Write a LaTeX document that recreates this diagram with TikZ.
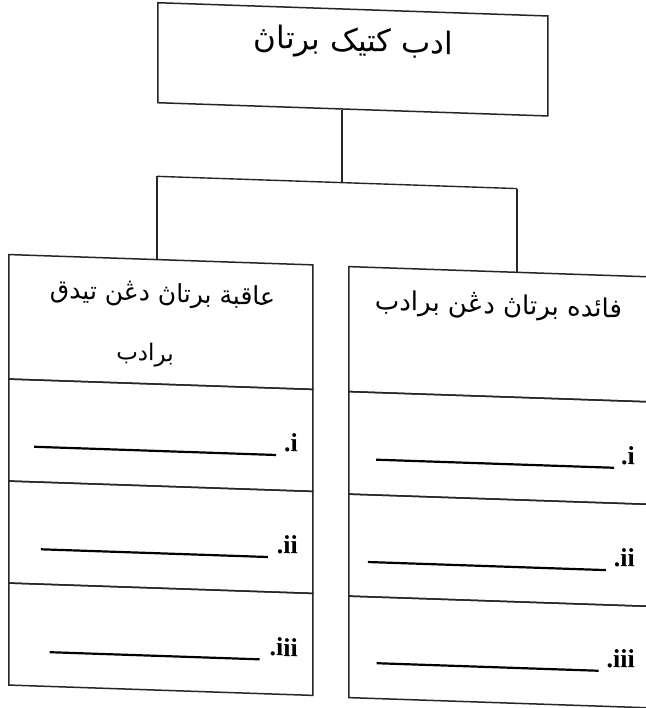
\documentclass[tikz,border=0pt]{standalone}
\usepackage{fontspec}
\setmainfont{Liberation Serif}
\newfontfamily\arabicfont[Script=Arabic]{DejaVu Sans}
\TeXXeTstate=1
\tikzset{
  cell/.style={draw=black!85, line width=1.5pt, rectangle, inner sep=0pt, anchor=north west},
  conn/.style={draw=black!85, line width=1.4pt},
  jawi/.style={font=\arabicfont\fontsize{25}{30}\selectfont, inner sep=0pt},
  blank/.style={font=\fontsize{26}{30}\selectfont\bfseries, inner sep=0pt, anchor=base east}
}
\begin{document}
\begin{tikzpicture}[x=1pt,y=-1pt]
\useasboundingbox[fill=white] (0,0) rectangle (645,708);
\begin{scope}[yslant=-0.034, transform shape]
% top box
\node[cell, minimum width=390pt, minimum height=100pt] (top) at (157,-3.4) {};
\node[jawi, font=\arabicfont\fontsize{31}{36}\selectfont] (toptext) at (353.5,31) {\beginR ادب كتيک برتاڽ\endR};
% left column
\node[cell, minimum width=304pt, minimum height=124.5pt] (lh) at (8,253.5) {};
\node[cell, minimum width=304pt, minimum height=102pt] (l1) at (8,378) {};
\node[cell, minimum width=304pt, minimum height=102pt] (l2) at (8,480) {};
\node[cell, minimum width=304pt, minimum height=102pt] (l3) at (8,582) {};
\node[jawi] (lht1) at (162.5,289.5) {\beginR عاقبة برتاڽ دڠن تيدق\endR};
\node[jawi, font=\arabicfont\fontsize{23}{28}\selectfont] (lht2) at (145,350) {\beginR برادب\endR};
\node[blank] (lb1) at (298,441.7) {\rule[-5pt]{242pt}{2.2pt}\hspace{8pt}.i};
\node[blank] (lb2) at (298,544) {\rule[-5pt]{227pt}{2.2pt}\hspace{9pt}.ii};
\node[blank] (lb3) at (298,646.6) {\rule[-5pt]{210pt}{2.2pt}\hspace{10pt}.iii};
% right column
\node[cell, minimum width=312pt, minimum height=125pt] (rh) at (348,254) {};
\node[cell, minimum width=312pt, minimum height=102.5pt] (r1) at (348,379) {};
\node[cell, minimum width=312pt, minimum height=102pt] (r2) at (348,481.5) {};
\node[cell, minimum width=312pt, minimum height=101.5pt] (r3) at (348,583.5) {};
\node[jawi, font=\arabicfont\fontsize{26}{31}\selectfont] (rht) at (498.5,289.7) {\beginR فائده برتاڽ دڠن برادب\endR};
\node[blank] (rb1) at (635,443) {\rule[-5pt]{238pt}{2.2pt}\hspace{7pt}.i};
\node[blank] (rb2) at (635,545.6) {\rule[-5pt]{238pt}{2.2pt}\hspace{8pt}.ii};
\node[blank] (rb3) at (635,646.5) {\rule[-5pt]{222pt}{2.2pt}\hspace{8pt}.iii};
% connectors
\coordinate (j) at (342,171);
\coordinate (jl) at (157,171);
\coordinate (jr) at (517,171);
\draw[conn] (top.south -| j) -- (j);
\draw[conn] (jl) -- (jr);
\draw[conn] (jl) -- (jl |- lh.north);
\draw[conn] (jr) -- (jr |- rh.north);
\end{scope}
\end{tikzpicture}
\end{document}
